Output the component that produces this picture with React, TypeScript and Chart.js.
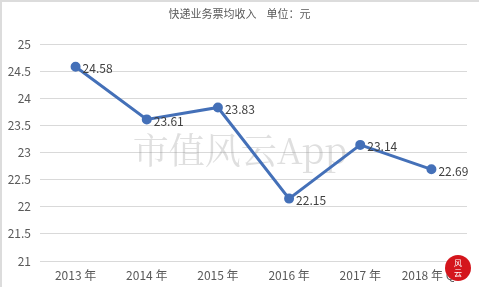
import React, { useEffect, useRef } from "react";
import { Chart, registerables } from "chart.js";

Chart.register(...registerables);

const categories = ["2013 年", "2014 年", "2015 年", "2016 年", "2017 年", "2018 年 Q3"];
const revenue = [24.58, 23.61, 23.83, 22.15, 23.14, 22.69];
const titleText = "快递业务票均收入    单位：元";
const watermarkText = "市值风云App";
const FONT = "'Noto Sans CJK SC', 'Microsoft YaHei', sans-serif";

export default function App() {
  const ref = useRef<HTMLCanvasElement | null>(null);

  useEffect(() => {
    document.body.style.margin = "0";
    const canvas = ref.current!;
    const decor = {
      id: "decor",
      beforeDatasetsDraw(chart: any) {
        const ctx = chart.ctx;
        ctx.save();
        ctx.fillStyle = "#dcdcdc";
        ctx.fillRect(0, 0, chart.width, 2);
        ctx.fillRect(0, 0, 2, chart.height);
        ctx.fillStyle = "#595959";
        ctx.font = `11px ${FONT}`;
        ctx.textAlign = "center";
        ctx.textBaseline = "middle";
        ctx.fillText(titleText, chart.width / 2, 14);
        ctx.fillStyle = "rgba(150,150,150,0.3)";
        ctx.font = `36px 'Noto Serif CJK SC', 'DejaVu Serif', serif`;
        ctx.fillText(watermarkText, 240, 150);
        ctx.restore();
      },
      afterDatasetsDraw(chart: any) {
        const ctx = chart.ctx;
        const meta = chart.getDatasetMeta(0);
        ctx.save();
        ctx.fillStyle = "#404040";
        ctx.font = `12px ${FONT}`;
        ctx.textAlign = "left";
        ctx.textBaseline = "middle";
        meta.data.forEach((p: any, i: number) => {
          ctx.fillText(revenue[i].toFixed(2), p.x + 7, p.y + 2);
        });
        ctx.fillStyle = "#d4151c";
        ctx.beginPath();
        ctx.arc(458, 268, 13, 0, Math.PI * 2);
        ctx.fill();
        ctx.fillStyle = "#ffffff";
        ctx.font = `8px ${FONT}`;
        ctx.textAlign = "center";
        ctx.fillText("风", 458, 263);
        ctx.fillText("云", 458, 273);
        ctx.restore();
      },
    };

    const chart = new Chart(canvas, {
      type: "line",
      data: {
        labels: categories,
        datasets: [
          {
            data: revenue,
            borderColor: "#4470B8",
            backgroundColor: "#4470B8",
            borderWidth: 3,
            pointRadius: 3.5,
            pointBackgroundColor: "#4470B8",
            pointBorderColor: "#4470B8",
            tension: 0,
          },
        ],
      },
      options: {
        responsive: false,
        animation: false,
        layout: { padding: { left: 0, right: 12, top: 44, bottom: 2 } },
        plugins: { legend: { display: false }, title: { display: false }, tooltip: { enabled: false } },
        scales: {
          x: {
            offset: true,
            grid: { display: false, drawTicks: false },
            border: { display: false },
            ticks: { color: "#595959", font: { size: 12, family: FONT }, padding: 7, maxRotation: 0, autoSkip: false },
            afterFit: (s: any) => {
              s.height = 24;
            },
          },
          y: {
            min: 21,
            max: 25,
            ticks: {
              stepSize: 0.5,
              color: "#595959",
              font: { size: 12, family: FONT },
              padding: 9,
              callback: (v: any) => String(Number(v)),
            },
            grid: { color: "#d9d9d9", drawTicks: false },
            border: { display: false },
            afterFit: (s: any) => {
              s.width = 40;
            },
          },
        },
      },
      plugins: [decor],
    });
    return () => chart.destroy();
  }, []);

  return (
    <div style={{ width: 479, height: 287, background: "#fff" }}>
      <canvas ref={ref} width={479} height={287} />
    </div>
  );
}
